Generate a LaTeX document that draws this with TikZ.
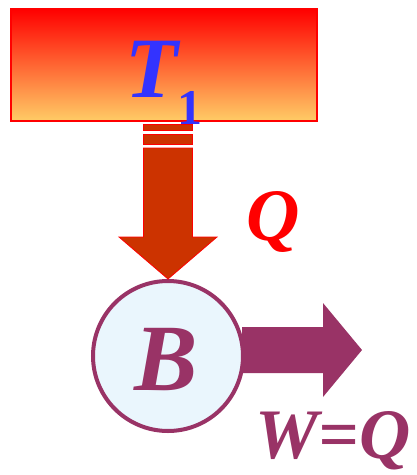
\documentclass[tikz,border=0pt]{standalone}
\usepackage{fontspec}
\setmainfont{Liberation Serif}
\usetikzlibrary{calc}
\definecolor{hotred}{RGB}{255,0,0}
\definecolor{hotpeach}{RGB}{255,204,102}
\definecolor{flowred}{RGB}{204,51,0}
\definecolor{plum}{RGB}{153,51,102}
\definecolor{paleblue}{RGB}{234,246,253}
\definecolor{tblue}{RGB}{51,51,255}

\begin{document}
\begin{tikzpicture}[x=1pt,y=-1pt,
    reservoir/.style={draw=hotred,line width=1.2pt,top color=hotred,
      bottom color=hotpeach,minimum width=306pt,minimum height=112pt,
      inner sep=0pt},
    engine/.style={circle,draw=plum,line width=4pt,fill=paleblue,
      minimum size=150pt,inner sep=0pt},
    flow/.style={fill=flowred,draw=hotred,line width=0.8pt},
    bigtxt/.style={inner sep=0pt,anchor=base,font=\bfseries\itshape}]
  \useasboundingbox (0,0) rectangle (417,475);

  % hot reservoir and engine
  \node[reservoir] (hot) at (164,65) {};
  \node[engine] (eng) at (168,356) {};

  % heat flow down into the engine
  \draw[flow] (eng.north) -- ++(-49,-42) -- ++(24.5,0) -- ++(0,-89)
    -- ++(49,0) -- ++(0,89) -- ++(24.5,0) -- cycle;
  \draw[flow] ($(eng.north)+(-24.5,-145)$) rectangle ++(49,10);
  \draw[flow] ($(eng.north)+(-24.5,-155)$) rectangle ++(49,6);

  % work out of the engine
  \fill[plum] ($(eng.east)+(-3,-29)$) -- ++(81,0) -- ++(0,-24) -- ++(39,47)
    -- ++(-39,47) -- ++(0,-24) -- ++(-81,0) -- cycle;

  % labels
  \node[bigtxt,text=tblue] (t1) at (164,97)
    {\fontsize{86}{86}\selectfont T\raisebox{-27pt}{\upshape\fontsize{50}{50}\selectfont 1}};
  \node[bigtxt,text=hotred] (q) at (273,240) {\fontsize{74}{74}\selectfont Q};
  \node[bigtxt,text=plum] (b) at (166,390) {\fontsize{95}{95}\selectfont B};
  \node[bigtxt,text=plum] (w) at (333,458) {\fontsize{71}{71}\selectfont W=Q};
\end{tikzpicture}
\end{document}
